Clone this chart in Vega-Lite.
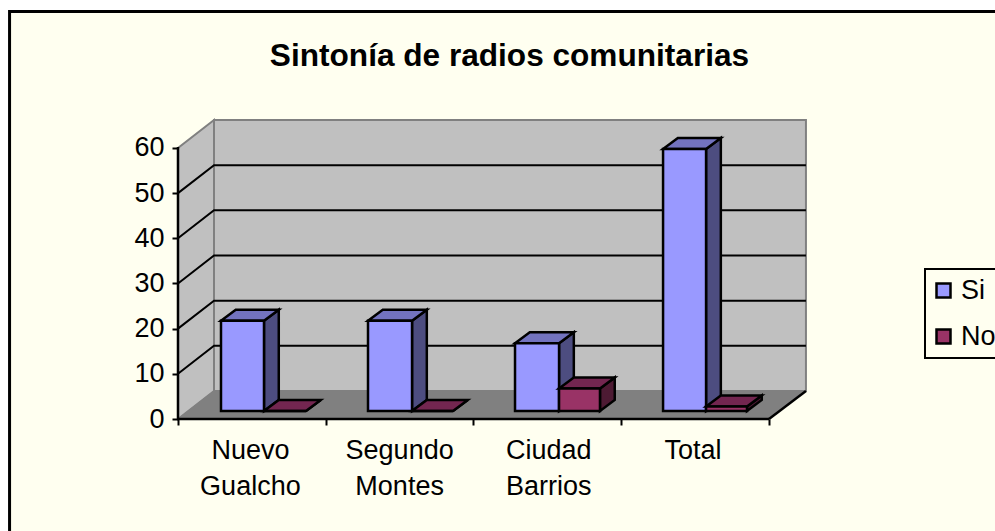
{
"$schema":"https://vega.github.io/schema/vega-lite/v6.json",
"width":995,"height":531,"autosize":"none","padding":0,"background":"#FFFFFF",
"config":{"view":{"stroke":null},"font":"Liberation Sans","legend":{"strokeWidth":2}},
"title":{"text":"Sintonía de radios comunitarias","font":"Liberation Sans","fontSize":31.6,"fontWeight":"bold","color":"#000000","anchor":"middle","frame":"group","dx":12,"dy":98,"offset":0,"baseline":"alphabetic","zindex":1},
"datasets":{
"frame":[{"x0":-1.14,"x1":6,"y0":90.2,"y1":-40}],
"walls":[
{"part":"left","x":0,"lo":0,"hi":60},{"part":"left","x":0.2437,"lo":6.2,"hi":66.2},
{"part":"back","x":0.2437,"lo":6.2,"hi":66.2},{"part":"back","x":4.25,"lo":6.2,"hi":66.2}],
"floor":[{"x":0,"lo":0,"hi":0},{"x":0.2437,"lo":0,"hi":6.2},{"x":4,"lo":0,"hi":6.2},{"x":4.25,"lo":6.2,"hi":6.2}],
"grid":[
{"v":10,"x":0,"y":10},{"v":10,"x":0.2437,"y":16.2},{"v":10,"x":4.25,"y":16.2},
{"v":20,"x":0,"y":20},{"v":20,"x":0.2437,"y":26.2},{"v":20,"x":4.25,"y":26.2},
{"v":30,"x":0,"y":30},{"v":30,"x":0.2437,"y":36.2},{"v":30,"x":4.25,"y":36.2},
{"v":40,"x":0,"y":40},{"v":40,"x":0.2437,"y":46.2},{"v":40,"x":4.25,"y":46.2},
{"v":50,"x":0,"y":50},{"v":50,"x":0.2437,"y":56.2},{"v":50,"x":4.25,"y":56.2}],
"edges":[
{"e":"yaxis","x":0,"y":0},{"e":"yaxis","x":0,"y":60.2},
{"e":"xaxis","x":0,"y":0},{"e":"xaxis","x":4,"y":0},
{"e":"floorRight","x":4,"y":0},{"e":"floorRight","x":4.25,"y":6.2}],
"bars":[
{"category":"Nuevo Gualcho","series":"Si","value":20,"x0":0.291,"x1":0.582,"base":1.77,"top":21.77},
{"category":"Segundo Montes","series":"Si","value":20,"x0":1.286,"x1":1.584,"base":1.77,"top":21.77},
{"category":"Ciudad Barrios","series":"Si","value":15,"x0":2.281,"x1":2.579,"base":1.77,"top":16.77},
{"category":"Total","series":"Si","value":58,"x0":3.283,"x1":3.574,"base":1.77,"top":59.77},
{"category":"Nuevo Gualcho","series":"No","value":0,"x0":0.582,"x1":0.866,"base":1.77,"top":1.77},
{"category":"Segundo Montes","series":"No","value":0,"x0":1.584,"x1":1.861,"base":1.77,"top":1.77},
{"category":"Ciudad Barrios","series":"No","value":5,"x0":2.579,"x1":2.856,"base":1.77,"top":6.77},
{"category":"Total","series":"No","value":1,"x0":3.574,"x1":3.851,"base":1.77,"top":2.77}],
"siSide":[
{"b":"a","x":0.582,"lo":1.77,"hi":21.77},{"b":"a","x":0.682,"lo":4.21,"hi":24.21},
{"b":"b","x":1.584,"lo":1.77,"hi":21.77},{"b":"b","x":1.684,"lo":4.21,"hi":24.21},
{"b":"c","x":2.579,"lo":1.77,"hi":16.77},{"b":"c","x":2.679,"lo":4.21,"hi":19.21},
{"b":"d","x":3.574,"lo":1.77,"hi":59.77},{"b":"d","x":3.674,"lo":4.21,"hi":62.21}],
"siTop":[
{"b":"a","x":0.291,"lo":21.77,"hi":21.77},{"b":"a","x":0.391,"lo":21.77,"hi":24.21},{"b":"a","x":0.582,"lo":21.77,"hi":24.21},{"b":"a","x":0.682,"lo":24.21,"hi":24.21},
{"b":"b","x":1.286,"lo":21.77,"hi":21.77},{"b":"b","x":1.386,"lo":21.77,"hi":24.21},{"b":"b","x":1.584,"lo":21.77,"hi":24.21},{"b":"b","x":1.684,"lo":24.21,"hi":24.21},
{"b":"c","x":2.281,"lo":16.77,"hi":16.77},{"b":"c","x":2.381,"lo":16.77,"hi":19.21},{"b":"c","x":2.579,"lo":16.77,"hi":19.21},{"b":"c","x":2.679,"lo":19.21,"hi":19.21},
{"b":"d","x":3.283,"lo":59.77,"hi":59.77},{"b":"d","x":3.383,"lo":59.77,"hi":62.21},{"b":"d","x":3.574,"lo":59.77,"hi":62.21},{"b":"d","x":3.674,"lo":62.21,"hi":62.21}],
"noSide":[
{"b":"a","x":0.866,"lo":1.77,"hi":1.77},{"b":"a","x":0.966,"lo":4.21,"hi":4.21},
{"b":"b","x":1.861,"lo":1.77,"hi":1.77},{"b":"b","x":1.961,"lo":4.21,"hi":4.21},
{"b":"c","x":2.856,"lo":1.77,"hi":6.77},{"b":"c","x":2.956,"lo":4.21,"hi":9.21},
{"b":"d","x":3.851,"lo":1.77,"hi":2.77},{"b":"d","x":3.951,"lo":4.21,"hi":5.21}],
"noTop":[
{"b":"a","x":0.582,"lo":1.77,"hi":1.77},{"b":"a","x":0.682,"lo":1.77,"hi":4.21},{"b":"a","x":0.866,"lo":1.77,"hi":4.21},{"b":"a","x":0.966,"lo":4.21,"hi":4.21},
{"b":"b","x":1.584,"lo":1.77,"hi":1.77},{"b":"b","x":1.684,"lo":1.77,"hi":4.21},{"b":"b","x":1.861,"lo":1.77,"hi":4.21},{"b":"b","x":1.961,"lo":4.21,"hi":4.21},
{"b":"c","x":2.579,"lo":6.77,"hi":6.77},{"b":"c","x":2.679,"lo":6.77,"hi":9.21},{"b":"c","x":2.856,"lo":6.77,"hi":9.21},{"b":"c","x":2.956,"lo":9.21,"hi":9.21},
{"b":"d","x":3.574,"lo":2.77,"hi":2.77},{"b":"d","x":3.674,"lo":2.77,"hi":5.21},{"b":"d","x":3.851,"lo":2.77,"hi":5.21},{"b":"d","x":3.951,"lo":5.21,"hi":5.21}],
"labels":[
{"label":"Nuevo Gualcho","x":0.49,"y":-4.3},
{"label":"Segundo Montes","x":1.5,"y":-4.3},
{"label":"Ciudad Barrios","x":2.51,"y":-4.3},
{"label":"Total","x":3.485,"y":-4.3}]
},
"layer":[
{"data":{"name":"frame"},"mark":{"type":"rect","fill":"#FFFFF0","stroke":"#000000","strokeWidth":3},
 "encoding":{
  "x":{"field":"x0","type":"quantitative","scale":{"domain":[-1.2047,5.5296],"nice":false,"zero":false},
   "axis":{"orient":"bottom","offset":-112,"values":[0,1,2,3,4],"labels":false,"domain":false,"grid":false,"title":null,"tickSize":6,"tickWidth":2,"tickColor":"#000000","zindex":1}},
  "x2":{"field":"x1"},
  "y":{"field":"y0","type":"quantitative","scale":{"domain":[-24.795,92.76],"nice":false,"zero":false},
   "axis":{"orient":"left","offset":-178,"values":[0,10,20,30,40,50,60],"domain":false,"grid":false,"title":null,"tickSize":6,"tickWidth":2,"tickColor":"#000000","labelFont":"Liberation Sans","labelFontSize":27,"labelColor":"#000000","labelPadding":8,"zindex":1}},
  "y2":{"field":"y1"}}},
{"data":{"name":"walls"},"mark":{"type":"area","fill":"#C0C0C0","stroke":"#808080","strokeWidth":2,"opacity":1},
 "encoding":{"x":{"field":"x","type":"quantitative"},"y":{"field":"lo","type":"quantitative"},"y2":{"field":"hi"},"detail":{"field":"part"}}},
{"data":{"name":"floor"},"mark":{"type":"area","fill":"#808080","stroke":"#808080","strokeWidth":1,"opacity":1},
 "encoding":{"x":{"field":"x","type":"quantitative"},"y":{"field":"lo","type":"quantitative"},"y2":{"field":"hi"}}},
{"data":{"name":"grid"},"mark":{"type":"line","color":"#000000","strokeWidth":2},
 "encoding":{"x":{"field":"x","type":"quantitative"},"y":{"field":"y","type":"quantitative"},"detail":{"field":"v"}}},
{"data":{"name":"edges"},"mark":{"type":"line","color":"#000000","strokeWidth":2.5},
 "encoding":{"x":{"field":"x","type":"quantitative"},"y":{"field":"y","type":"quantitative"},"detail":{"field":"e"}}},
{"data":{"name":"siSide"},"mark":{"type":"area","fill":"#4D4D80","stroke":"#000000","strokeWidth":2.5,"opacity":1},
 "encoding":{"x":{"field":"x","type":"quantitative"},"y":{"field":"lo","type":"quantitative"},"y2":{"field":"hi"},"detail":{"field":"b"}}},
{"data":{"name":"siTop"},"mark":{"type":"area","fill":"#7373BF","stroke":"#000000","strokeWidth":2.5,"opacity":1},
 "encoding":{"x":{"field":"x","type":"quantitative"},"y":{"field":"lo","type":"quantitative"},"y2":{"field":"hi"},"detail":{"field":"b"}}},
{"data":{"name":"bars"},"transform":[{"filter":"datum.series==='Si'"}],"mark":{"type":"rect","stroke":"#000000","strokeWidth":2.5},
 "encoding":{"x":{"field":"x0","type":"quantitative"},"x2":{"field":"x1"},"y":{"field":"base","type":"quantitative"},"y2":{"field":"top"},
  "color":{"field":"series","type":"nominal","scale":{"domain":["Si","No"],"range":["#9999FF","#993366"]},
   "legend":{"orient":"none","legendX":925,"legendY":269,"title":null,"symbolType":"square","symbolSize":196,"symbolStrokeColor":"#000000","symbolStrokeWidth":2.5,"labelFont":"Liberation Sans","labelFontSize":27,"labelColor":"#000000","fillColor":"#FFFFF0","strokeColor":"#000000","padding":8,"rowPadding":18,"symbolOffset":-3,"labelOffset":4,"labelLimit":200,"zindex":1}}}},
{"data":{"name":"noSide"},"mark":{"type":"area","fill":"#4D1A33","stroke":"#000000","strokeWidth":2.5,"opacity":1},
 "encoding":{"x":{"field":"x","type":"quantitative"},"y":{"field":"lo","type":"quantitative"},"y2":{"field":"hi"},"detail":{"field":"b"}}},
{"data":{"name":"noTop"},"mark":{"type":"area","fill":"#732650","stroke":"#000000","strokeWidth":2.5,"opacity":1},
 "encoding":{"x":{"field":"x","type":"quantitative"},"y":{"field":"lo","type":"quantitative"},"y2":{"field":"hi"},"detail":{"field":"b"}}},
{"data":{"name":"bars"},"transform":[{"filter":"datum.series==='No'"}],"mark":{"type":"rect","stroke":"#000000","strokeWidth":2.5},
 "encoding":{"x":{"field":"x0","type":"quantitative"},"x2":{"field":"x1"},"y":{"field":"base","type":"quantitative"},"y2":{"field":"top"},
  "color":{"field":"series","type":"nominal"}}},
{"data":{"name":"labels"},"mark":{"type":"text","font":"Liberation Sans","fontSize":27,"color":"#000000","align":"center","baseline":"top","lineBreak":" ","lineHeight":36},
 "encoding":{"x":{"field":"x","type":"quantitative"},"y":{"field":"y","type":"quantitative"},"text":{"field":"label"}}}
]
}
